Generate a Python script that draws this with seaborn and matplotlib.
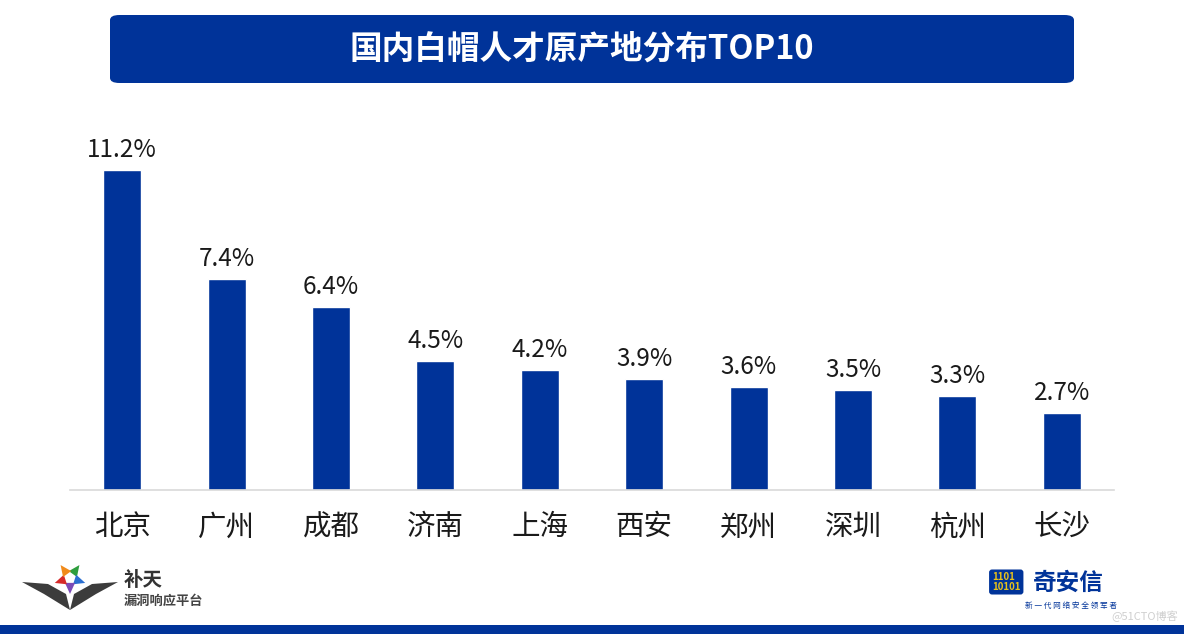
import matplotlib
matplotlib.use('Agg')
import matplotlib.pyplot as plt
from matplotlib.patches import FancyBboxPatch, Rectangle, Polygon
import numpy as np
import seaborn as sns

# data
cities = ['北京', '广州', '成都', '济南', '上海', '西安', '郑州', '深圳', '杭州', '长沙']
shares = [11.2, 7.4, 6.4, 4.5, 4.2, 3.9, 3.6, 3.5, 3.3, 2.7]
title = '国内白帽人才原产地分布TOP10'

BLUE = '#003399'

sns.set_theme(style='white')
plt.rcParams['font.family'] = ['Noto Sans CJK SC', 'DejaVu Sans']

fig = plt.figure(figsize=(11.84, 6.34), dpi=100)
ax = fig.add_axes([70 / 1184, 1 - 490 / 634, 1044 / 1184, 380 / 634])

sns.barplot(x=cities, y=shares, color=BLUE, saturation=1, width=0.365, ax=ax)
ax.bar_label(ax.containers[0], fmt='%.1f%%', padding=5, fontsize=17.5, color='#1a1a1a')

ax.set_ylim(0, 380 / 28.57)
ax.set_xlim(-0.5, len(cities) - 0.5)
ax.set_yticks([])
ax.set_xlabel('')
ax.set_ylabel('')
ax.tick_params(axis='x', length=0, pad=16, labelsize=20.5, labelcolor='#1a1a1a')
for side in ['top', 'left', 'right']:
    ax.spines[side].set_visible(False)
ax.spines['bottom'].set_color('#d9d9d9')
ax.spines['bottom'].set_linewidth(1.2)

# title banner
banner = FancyBboxPatch((110 / 1184, 1 - 83 / 634), 964 / 1184, 68 / 634,
                        boxstyle='round,pad=0,rounding_size=0.008',
                        transform=fig.transFigure, facecolor=BLUE, edgecolor='none')
fig.patches.append(banner)
fig.text(582 / 1184, 1 - 49 / 634, title, ha='center', va='center',
         color='white', fontsize=23.5, fontweight='bold')

# bottom strip
fig.patches.append(Rectangle((0, 0), 1, 9 / 634, transform=fig.transFigure,
                             facecolor=BLUE, edgecolor='none'))


def fpt(x, y):
    return (x / 1184, 1 - y / 634)


# left logo (rough sketch)
wing_l = Polygon([fpt(22, 582), fpt(48, 584), fpt(66, 594), fpt(70, 610), fpt(44, 594)],
                 transform=fig.transFigure, facecolor='#3c3c3c', edgecolor='none')
wing_r = Polygon([fpt(118, 582), fpt(92, 584), fpt(74, 594), fpt(70, 610), fpt(96, 594)],
                 transform=fig.transFigure, facecolor='#3c3c3c', edgecolor='none')
fig.patches.extend([wing_l, wing_r])
cx, cy = 70, 578
star_cols = ['#2e9e3e', '#2b6fd1', '#7b4bb7', '#d62a2a', '#f08a1a']
for i, c in enumerate(star_cols):
    a = np.pi / 2 - np.pi / 5 - i * 2 * np.pi / 5
    tip = fpt(cx + 16 * np.cos(a), cy - 16 * np.sin(a))
    b1 = fpt(cx + 7 * np.cos(a + 0.8), cy - 7 * np.sin(a + 0.8))
    b2 = fpt(cx + 7 * np.cos(a - 0.8), cy - 7 * np.sin(a - 0.8))
    fig.patches.append(Polygon([tip, b1, b2], transform=fig.transFigure,
                               facecolor=c, edgecolor='none'))

fig.text(124 / 1184, 1 - 580 / 634, '补天', fontsize=14, fontweight='bold',
         color='#333333', va='center', ha='left')
fig.text(124 / 1184, 1 - 601 / 634, '漏洞响应平台', fontsize=9.5, fontweight='bold',
         color='#444444', va='center', ha='left')

# right logo (rough sketch)
fig.text(1033 / 1184, 1 - 583 / 634, '奇安信', fontsize=17, fontweight='bold',
         color=BLUE, va='center', ha='left')
fig.text(1071 / 1184, 1 - 606 / 634, '新 一 代 网 络 安 全 领 军 者', fontsize=5.5,
         color=BLUE, va='center', ha='center')
fig.text(992 / 1184, 1 - 582 / 634, '1101\n10101', fontsize=7, fontweight='bold',
         color='#e8c21a', va='center', ha='left', linespacing=0.9,
         bbox=dict(boxstyle='round,pad=0.3', facecolor=BLUE, edgecolor='none'))
fig.text(1178 / 1184, 1 - 616 / 634, '@51CTO博客', fontsize=8, color='#cfcfcf',
         va='center', ha='right')

fig.savefig('out.png', dpi=100, facecolor='white')
